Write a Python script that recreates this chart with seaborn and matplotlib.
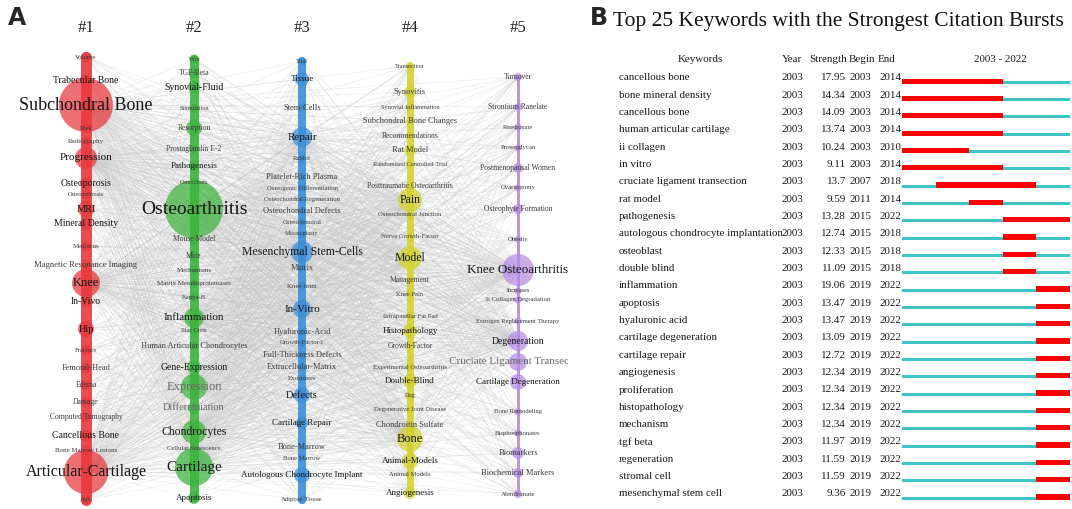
import numpy as np
import matplotlib
matplotlib.use("Agg")
import matplotlib.pyplot as plt
import seaborn as sns
from matplotlib.collections import LineCollection

# ---------------- Panel A data (timeline clusters) ----------------
cluster_names = ["#1", "#2", "#3", "#4", "#5"]
cluster_colors = ["#E8383D", "#3DB33D", "#3B8ED8", "#D2D232", "#B48BE3"]

c1_labels = ["Volume", "Trabecular Bone", "Subchondral Bone", "Risk", "Radiography", "Progression",
             "Osteoporosis", "Osteoarthrosis", "MRI", "Mineral Density", "Meniscus",
             "Magnetic Resonance Imaging", "Knee", "In-Vivo", "Hip", "Fracture", "Femoral-Head",
             "Edema", "Damage", "Computed Tomography", "Cancellous Bone", "Bone Marrow Lesions",
             "Articular-Cartilage", "Age"]
c1_pos = [57, 80, 105, 128, 141, 158, 183, 194, 209, 224, 246, 265, 283, 302, 329, 350, 368,
          385, 402, 417, 436, 450, 472, 500]
c1_fs = [5, 7, 13, 5, 5, 8, 7, 4.5, 7.5, 7, 5, 6.2, 9, 7, 7.5, 4.8, 6, 5.5, 5.5, 5.5, 7, 5, 11.5, 5]
c1_r = [5, 6, 27, 5, 5, 11, 6, 5, 8, 6, 5, 5, 14, 5, 8, 5, 5, 5, 5, 5, 6, 5, 22, 5]

c2_labels = ["Wnt", "TGF-Beta", "Synovial-Fluid", "Stimulation", "Resorption", "Prostaglandin E-2",
             "Pathogenesis", "Osteoclasts", "Osteoarthritis", "Mouse Model", "Mice", "Mechanisms",
             "Matrix Metalloproteinases", "Kappa-B", "Inflammation", "Iliac Crest",
             "Human Articular Chondrocytes", "Gene-Expression", "Expression", "Differentiation",
             "Chondrocytes", "Cellular Senescence", "Cartilage", "Apoptosis"]
c2_pos = [59, 73, 87, 108, 128, 149, 166, 183, 209, 239, 256, 270, 283, 297, 318, 331, 346, 367,
          387, 408, 432, 449, 467, 498]
c2_fs = [4.5, 5.5, 7, 4.5, 5.5, 5.5, 6.5, 4.5, 14, 5.5, 5.5, 5, 5, 4.8, 8, 4.5, 6, 7, 9, 7.5, 8.5,
         4.8, 11, 6.5]
c2_r = [4.5, 5, 6, 4.5, 8, 4.5, 5, 4.5, 29, 5, 5, 4.5, 4.5, 4.5, 10, 4.5, 4.5, 7, 13, 6, 12,
        4.5, 19, 6]

c3_labels = ["Trial", "Tissue", "Stem-Cells", "Repair", "Rabbit", "Platelet-Rich Plasma",
             "Osteogenic Differentiation", "Osteochondral Regeneration", "Osteochondral Defects",
             "Osteochondral", "Mosaicplasty", "Mesenchymal Stem-Cells", "Matrix", "Knee Joint",
             "In-Vitro", "Hyaluronic-Acid", "Growth-Factor-I", "Full-Thickness Defects",
             "Extracellular-Matrix", "Exosomes", "Defects", "Cartilage Repair", "Bone-Marrow",
             "Bone Marrow", "Autologous Chondrocyte Implant", "Adipose-Tissue"]
c3_pos = [61, 79, 108, 137, 159, 177, 188, 200, 211, 222, 234, 252, 268, 286, 309, 332, 343, 355,
          367, 378, 395, 423, 447, 458, 475, 500]
c3_fs = [4.5, 6.5, 6, 8, 4.8, 6, 4.8, 4.8, 6, 4.8, 4.5, 8.5, 6, 5, 8, 6, 4.8, 6, 6, 5, 7.5, 6.5,
         6, 4.8, 6.5, 4.8]
c3_r = [4, 7, 4, 10, 4, 4, 4, 4, 4, 4, 4, 11, 4, 4, 9, 4, 4, 4, 4, 4, 8, 6, 4, 4, 8, 4]

c4_labels = ["Transection", "Synovitis", "Synovial Inflammation", "Subchondral Bone Changes",
             "Recommendations", "Rat Model", "Randomized Controlled-Trial",
             "Posttraumatic Osteoarthritis", "Pain", "Osteochondral Junction", "Nerve Growth-Factor",
             "Model", "Management", "Knee Pain", "Infrapatellar Fat Pad", "Histopathology",
             "Growth-Factor", "Experimental Osteoarthritis", "Double-Blind", "Dog",
             "Degenerative Joint Disease", "Chondroitin Sulfate", "Bone", "Animal-Models",
             "Animal Models", "Angiogenesis"]
c4_pos = [66, 92, 107, 121, 136, 150, 164, 186, 200, 215, 237, 258, 280, 294, 316, 331, 346, 367,
          381, 396, 410, 425, 439, 461, 475, 493]
c4_fs = [4.5, 6, 4.5, 6, 5.5, 6, 4.5, 5.5, 8.5, 4.8, 4.8, 8.5, 5.5, 4.8, 4.8, 6.5, 5.5, 4.8, 6.5,
         4.5, 4.8, 6, 9, 6.5, 4.8, 6.5]
c4_r = [4, 6, 4, 4, 4, 6, 4, 4, 12, 4, 4, 12, 4, 4, 4, 7, 4, 4, 7, 4, 4, 4, 13, 8, 4, 6]

c5_labels = ["Turnover", "Strontium Ranelate", "Risedronate", "Proteoglycan", "Postmenopausal Women",
             "Ovariectomy", "Osteophyte Formation", "Obesity", "Knee Osteoarthritis", "Increases",
             "Ii Collagen Degradation", "Estrogen Replacement Therapy", "Degeneration",
             "Cruciate Ligament Transection", "Cartilage Degeneration", "Bone Remodeling",
             "Bisphosphonates", "Biomarkers", "Biochemical Markers", "Alendronate"]
c5_pos = [77, 107, 127, 148, 168, 188, 209, 239, 270, 291, 300, 321, 341, 362, 382, 412, 433, 453,
          473, 494]
c5_fs = [5.5, 5.5, 4.5, 4.8, 5.5, 4.8, 5.5, 4.8, 9.4, 4.5, 4.8, 4.8, 7, 8, 6.5, 4.8, 4.8, 6, 6, 5]
c5_r = [4, 4, 3.5, 3.5, 5, 3.5, 5, 3.5, 16, 3.5, 3.5, 3.5, 10, 9, 8, 3.5, 3.5, 6, 5, 4]

grey_labels = ["Expression", "Differentiation", "Cruciate Ligament Transection"]

hubs = [(0, "Subchondral Bone"), (0, "Articular-Cartilage"), (0, "Knee"), (0, "Progression"),
        (1, "Osteoarthritis"), (1, "Cartilage"), (1, "Inflammation"), (1, "Expression"),
        (1, "Chondrocytes"), (2, "Repair"), (2, "Mesenchymal Stem-Cells"), (2, "In-Vitro"),
        (3, "Pain"), (3, "Model"), (3, "Bone"), (4, "Knee Osteoarthritis"), (4, "Degeneration")]

# ---------------- Panel B data (citation bursts) ----------------
kw = ["cancellous bone", "bone mineral density", "cancellous bone", "human articular cartilage",
      "ii collagen", "in vitro", "cruciate ligament transection", "rat model", "pathogenesis",
      "autologous chondrocyte implantation", "osteoblast", "double blind", "inflammation",
      "apoptosis", "hyaluronic acid", "cartilage degeneration", "cartilage repair",
      "angiogenesis", "proliferation", "histopathology", "mechanism", "tgf beta",
      "regeneration", "stromal cell", "mesenchymal stem cell"]
kw_year = [2003] * 25
strength = [17.95, 14.34, 14.09, 13.74, 10.24, 9.11, 13.7, 9.59, 13.28, 12.74, 12.33, 11.09,
            19.06, 13.47, 13.47, 13.09, 12.72, 12.34, 12.34, 12.34, 12.34, 11.97, 11.59, 11.59, 9.36]
begin = [2003, 2003, 2003, 2003, 2003, 2003, 2007, 2011, 2015, 2015, 2015, 2015,
         2019, 2019, 2019, 2019, 2019, 2019, 2019, 2019, 2019, 2019, 2019, 2019, 2019]
end = [2014, 2014, 2014, 2014, 2010, 2014, 2018, 2014, 2022, 2018, 2018, 2018,
       2022, 2022, 2022, 2022, 2022, 2022, 2022, 2022, 2022, 2022, 2022, 2022, 2022]
span_start, span_end = 2003, 2022

# ---------------- Figure ----------------
sns.set_theme(style="white")
plt.rcParams["font.family"] = ["Liberation Serif", "DejaVu Serif"]

W, H = 1072, 509
fig = plt.figure(figsize=(W / 100, H / 100), dpi=100)
fig.patch.set_facecolor("white")

# Panel A axes: x = cluster index, y = timeline position (top -> bottom)
axA_w = 568
axA = fig.add_axes([0, 0, axA_w / W, 1])
spacing = 108.0
axA.set_xlim(1 - 86 / spacing, 1 + (axA_w - 86) / spacing)
axA.set_ylim(H, 0)
axA.set_axis_off()

clusters = [
    (c1_labels, c1_pos, c1_fs, c1_r),
    (c2_labels, c2_pos, c2_fs, c2_r),
    (c3_labels, c3_pos, c3_fs, c3_r),
    (c4_labels, c4_pos, c4_fs, c4_r),
    (c5_labels, c5_pos, c5_fs, c5_r),
]
col_width = [11, 9, 8, 7, 3]

# edges
segs = []
for hc, hl in hubs:
    hx = hc + 1
    hy = clusters[hc][1][clusters[hc][0].index(hl)]
    for ci, (labs, pos, fs, rr) in enumerate(clusters):
        if ci == hc:
            continue
        for p in pos:
            segs.append([(hx, hy), (ci + 1, p)])
lc = LineCollection(segs, colors="#c4c4c4", linewidths=0.5, alpha=0.3, zorder=1)
axA.add_collection(lc)

for ci, (labs, pos, fs, rr) in enumerate(clusters):
    k = ci + 1
    col = cluster_colors[ci]
    axA.plot([k, k], [min(pos), max(pos)], color=col, lw=col_width[ci] * 0.72,
             solid_capstyle="round", alpha=0.9, zorder=2)
    sizes = (1.44 * np.array(rr)) ** 2
    sns.scatterplot(x=np.full(len(pos), k), y=pos, s=sizes, color=col, alpha=0.72,
                    edgecolor="none", linewidth=0, ax=axA, legend=False, zorder=3)
    for lab, p, f in zip(labs, pos, fs):
        if lab in grey_labels:
            c = "#6a6a6a"
        elif f >= 6.5:
            c = "#151515"
        else:
            c = "#3c3c3c"
        axA.text(k, p, lab, ha="center", va="center", fontsize=f, color=c, zorder=4,
                 clip_on=True)
    axA.text(k, 28, cluster_names[ci], ha="center", va="center", fontsize=12, color="#222222")

fig.text(8 / W, 1 - 18 / H, "A", fontsize=17, fontweight="bold", family="DejaVu Sans",
         ha="left", va="center")
fig.text(590 / W, 1 - 18 / H, "B", fontsize=17, fontweight="bold", family="DejaVu Sans",
         ha="left", va="center")

# Panel B table axes: x in pixel units, y in row units
row0, row_h = 78.0, 17.33
ylo = (0 - row0) / row_h
yhi = (H - row0) / row_h
axT = fig.add_axes([580 / W, 0, (W - 580) / W, 1])
axT.set_xlim(580, W)
axT.set_ylim(yhi, ylo)
axT.set_axis_off()

tfs = 7.9
axT.text(838, (22 - row0) / row_h, "Top 25 Keywords with the Strongest Citation Bursts",
         ha="center", va="center", fontsize=15.5, color="#111111")
hy = (60 - row0) / row_h
for x, t in [(700, "Keywords"), (792, "Year"), (828, "Strength"), (862, "Begin"),
             (887, "End"), (1000, f"{span_start} - {span_end}")]:
    axT.text(x, hy, t, ha="center", va="center", fontsize=tfs, color="#1a1a1a")

for i in range(len(kw)):
    axT.text(619, i, kw[i], ha="left", va="center", fontsize=tfs, color="#1a1a1a")
    axT.text(782, i, str(kw_year[i]), ha="left", va="center", fontsize=tfs, color="#1a1a1a")
    axT.text(846, i, f"{strength[i]:g}", ha="right", va="center", fontsize=tfs, color="#1a1a1a")
    axT.text(849, i, str(begin[i]), ha="left", va="center", fontsize=tfs, color="#1a1a1a")
    axT.text(879, i, str(end[i]), ha="left", va="center", fontsize=tfs, color="#1a1a1a")

# bars axes: x in years
axB = fig.add_axes([902 / W, 0, 168 / W, 1])
axB.set_xlim(span_start, span_end + 1)
axB.set_ylim(yhi, ylo)
axB.set_axis_off()
rows = np.arange(len(kw))
axB.barh(rows + 0.24, span_end + 1 - span_start, left=span_start, height=0.18,
         color="#3EC4C4", linewidth=0)
axB.barh(rows + 0.18, np.array(end) + 1 - np.array(begin), left=begin, height=0.3,
         color="#FF0000", linewidth=0)

fig.savefig("out.png", dpi=100, facecolor="white")
